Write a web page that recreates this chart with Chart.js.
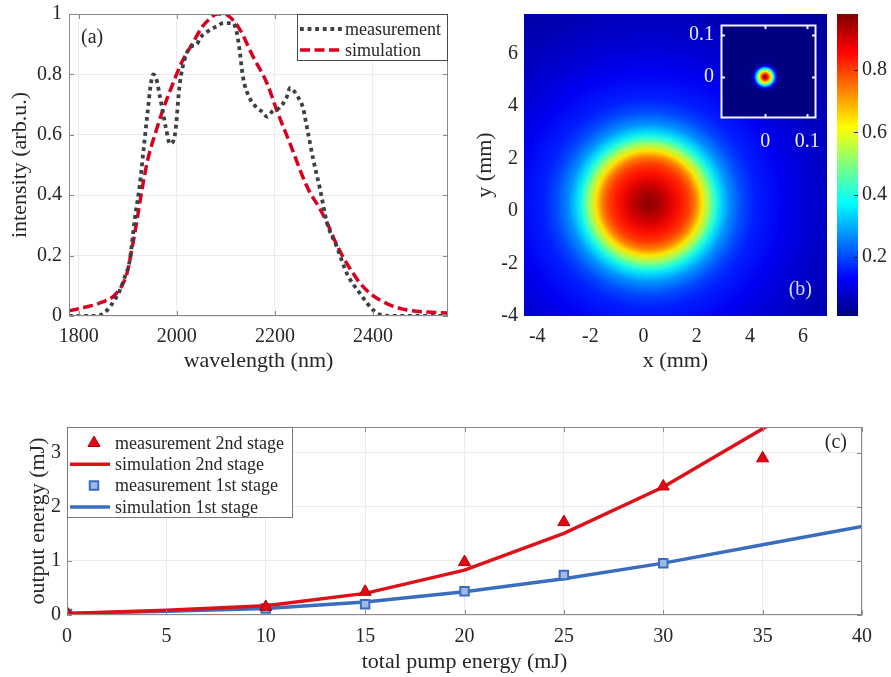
<!DOCTYPE html>
<html>
<head>
<meta charset="utf-8">
<script src="https://cdn.jsdelivr.net/npm/chart.js@4.4.0/dist/chart.umd.min.js"></script>
<style>
  body { margin: 0; background: #fff; }
  #page { position: relative; width: 891px; height: 677px; overflow: hidden; }
  canvas { position: absolute; }
  #spectrum { left: 0; top: 0; }
  #beam { left: 460px; top: 0; }
  #focus { left: 690px; top: 15px; }
  #energy { left: 0; top: 400px; }
</style>
</head>
<body>
<div id="page">
  <canvas id="spectrum" width="460" height="380"></canvas>
  <canvas id="beam" width="431" height="380"></canvas>
  <canvas id="focus" width="140" height="145"></canvas>
  <canvas id="energy" width="891" height="277"></canvas>
</div>
<script>
// (a) spectrum
const measWavelength = [1780, 1800, 1820, 1843, 1853, 1863, 1874, 1884, 1894, 1904, 1914, 1924, 1932, 1940, 1947, 1952, 1959, 1965, 1971, 1978, 1986, 1996, 2006, 2016, 2027, 2041, 2047, 2061, 2082, 2095, 2108, 2114, 2122, 2128, 2135, 2149, 2163, 2175, 2184, 2196, 2210, 2224, 2231, 2247, 2257, 2267, 2278, 2292, 2306, 2326, 2347, 2373, 2400, 2414, 2440, 2500, 2553];
const measIntensity = [0, 0, 0, 0.003, 0.012, 0.03, 0.055, 0.086, 0.13, 0.185, 0.32, 0.43, 0.55, 0.67, 0.77, 0.80, 0.78, 0.73, 0.68, 0.62, 0.57, 0.60, 0.77, 0.85, 0.89, 0.90, 0.92, 0.94, 0.96, 0.97, 0.97, 0.97, 0.94, 0.88, 0.79, 0.72, 0.69, 0.675, 0.66, 0.68, 0.69, 0.725, 0.755, 0.725, 0.69, 0.61, 0.52, 0.42, 0.31, 0.23, 0.14, 0.076, 0.02, 0.005, 0, 0, 0];
const simWavelength = [1780, 1808, 1843, 1877, 1898, 1908, 1918, 1929, 1941, 1959, 1971, 1992, 2010, 2031, 2053, 2068, 2082, 2095, 2108, 2128, 2155, 2184, 2204, 2231, 2257, 2271, 2290, 2306, 2322, 2339, 2356, 2373, 2394, 2414, 2440, 2469, 2510, 2553];
const simIntensity = [0.017, 0.027, 0.043, 0.076, 0.14, 0.22, 0.31, 0.42, 0.52, 0.62, 0.68, 0.77, 0.84, 0.90, 0.96, 0.985, 1.0, 1.0, 0.99, 0.95, 0.86, 0.77, 0.68, 0.57, 0.46, 0.41, 0.36, 0.31, 0.25, 0.195, 0.15, 0.11, 0.075, 0.053, 0.033, 0.02, 0.013, 0.01];
const wavelengthTicks = [1800, 2000, 2200, 2400];
const intensityTicks = [0, 0.2, 0.4, 0.6, 0.8, 1];

// (b) beam profile, radial levels (mm)
const beamCentreX = 0.2, beamCentreY = 0.3;
const beamRadius = [0, 0.4, 0.8, 1.2, 1.5, 1.75, 2.0, 2.25, 2.5, 2.75, 3.0, 3.5, 4.0, 5.0, 6.0, 7.5, 9.0];
const beamLevel = [0.97, 0.94, 0.89, 0.84, 0.80, 0.74, 0.64, 0.52, 0.41, 0.33, 0.27, 0.20, 0.16, 0.12, 0.09, 0.06, 0.04];
const focusRadius = [0, 0.004, 0.008, 0.011, 0.014, 0.017, 0.02, 0.023, 0.026, 0.03, 0.036];
const focusLevel = [0.97, 0.9, 0.8, 0.7, 0.62, 0.5, 0.38, 0.25, 0.13, 0.05, 0.01];
const beamTicks = [-4, -2, 0, 2, 4, 6];
const colourTicks = [0.2, 0.4, 0.6, 0.8];
const focusTicks = [0, 0.1];

// (c) output energy
const pumpMeas2 = [0, 10, 15, 20, 25, 30, 35];
const outMeas2 = [0.04, 0.15, 0.43, 0.98, 1.72, 2.38, 2.90];
const pumpSim2 = [0, 5, 10, 15, 20, 25, 30, 35.2];
const outSim2 = [0.03, 0.09, 0.17, 0.40, 0.83, 1.51, 2.37, 3.49];
const pumpMeas1 = [0, 10, 15, 20, 25, 30];
const outMeas1 = [0.02, 0.12, 0.20, 0.44, 0.74, 0.96];
const pumpSim1 = [0, 5, 10, 15, 20, 25, 30, 35, 40];
const outSim1 = [0.03, 0.07, 0.12, 0.24, 0.43, 0.67, 0.96, 1.30, 1.64];
const pumpTicks = [0, 5, 10, 15, 20, 25, 30, 35, 40];
const outTicks = [0, 1, 2, 3];

const serif = "'Liberation Serif', 'Times New Roman', serif";
const ink = '#262626';
Chart.defaults.font.family = serif;
Chart.defaults.color = ink;

const pts = (xs, ys) => xs.map((v, i) => ({ x: v, y: ys[i] }));
const fixTicks = values => scale => { scale.ticks = values.map(v => ({ value: v })); };
// fixed axis box size, and no extra label padding pushed into the layout
const fixSize = size => scale => {
    if (scale.isHorizontal()) scale.height = size; else scale.width = size;
    scale.paddingTop = scale.paddingBottom = scale.paddingLeft = scale.paddingRight = 0;
};

function jet(t) {
    const c = k => Math.round(255 * Math.min(1, Math.max(0, 1.5 - Math.abs(4 * t - k))));
    return `rgb(${c(3)},${c(2)},${c(1)})`;
}

function axis(ticks, min, max, size, pad, title, titlePad, extra) {
    return Object.assign({
        type: 'linear', min, max,
        afterBuildTicks: fixTicks(ticks),
        afterFit: fixSize(size),
        grid: { color: '#ebebeb', drawTicks: false },
        border: { display: false },
        ticks: { autoSkip: false, maxRotation: 0, padding: pad, font: { size: 20 }, callback: v => String(v) },
        title: { display: !!title, text: title, font: { size: 22, lineHeight: 1 }, padding: titlePad }
    }, extra || {});
}

// box round the plot with inward ticks on all four sides
const boxFrame = {
    id: 'boxFrame',
    afterDatasetsDraw(chart, args, o) {
        const { ctx, chartArea: a, scales: { x, y } } = chart;
        const len = o.tick;
        ctx.save();
        ctx.strokeStyle = o.color;
        ctx.lineWidth = o.width;
        ctx.setLineDash([]);
        ctx.strokeRect(a.left + 0.5, a.top + 0.5, a.width - 1, a.height - 1);
        ctx.beginPath();
        x.ticks.forEach(t => {
            const p = Math.round(x.getPixelForValue(t.value)) + 0.5;
            ctx.moveTo(p, a.bottom); ctx.lineTo(p, a.bottom - len);
            ctx.moveTo(p, a.top); ctx.lineTo(p, a.top + len);
        });
        y.ticks.forEach(t => {
            const p = Math.round(y.getPixelForValue(t.value)) + 0.5;
            ctx.moveTo(a.left, p); ctx.lineTo(a.left + len, p);
            ctx.moveTo(a.right, p); ctx.lineTo(a.right - len, p);
        });
        ctx.stroke();
        ctx.restore();
    }
};

const boxLegend = {
    id: 'boxLegend',
    afterDraw(chart, args, o) {
        const { ctx, chartArea: a } = chart;
        const left = o.right ? a.right - o.width : a.left;
        const top = a.top;
        ctx.save();
        ctx.fillStyle = '#fff';
        ctx.fillRect(left, top, o.width, o.height);
        ctx.strokeStyle = o.borderColor;
        ctx.lineWidth = 1;
        ctx.strokeRect(left + 0.5, top + 0.5, o.width - 1, o.height - 1);
        ctx.font = `${o.fontSize}px ${serif}`;
        ctx.textBaseline = 'middle';
        chart.data.datasets.forEach((ds, i) => {
            const y = top + o.firstRow + i * o.rowStep;
            if (ds.showLine === false) {
                ctx.fillStyle = ds.backgroundColor;
                ctx.strokeStyle = ds.borderColor;
                ctx.lineWidth = ds.borderWidth;
                Chart.helpers.drawPoint(ctx, { pointStyle: ds.pointStyle, radius: ds.pointRadius, rotation: 0, borderWidth: ds.borderWidth }, left + o.markX, y);
            } else {
                ctx.strokeStyle = ds.borderColor;
                ctx.lineWidth = ds.borderWidth;
                ctx.setLineDash(ds.borderDash || []);
                ctx.beginPath();
                ctx.moveTo(left + o.lineFrom, y);
                ctx.lineTo(left + o.lineTo, y);
                ctx.stroke();
                ctx.setLineDash([]);
            }
            ctx.fillStyle = ink;
            ctx.fillText(ds.label, left + o.textX, y + 1);
        });
        ctx.restore();
    }
};

const panelTag = {
    id: 'panelTag',
    afterDraw(chart, args, o) {
        const { ctx, chartArea: a } = chart;
        ctx.save();
        ctx.font = `20px ${serif}`;
        ctx.fillStyle = o.color;
        ctx.textBaseline = 'middle';
        ctx.textAlign = o.fromRight ? 'right' : 'left';
        const x = o.fromRight ? a.right - o.dx : a.left + o.dx;
        const y = o.fromBottom ? a.bottom - o.dy : a.top + o.dy;
        ctx.fillText(o.text, x, y);
        ctx.restore();
    }
};

// radial intensity map, placed through the chart's scales
function beamMap(id, cx, cy, radius, level, lo, hi) {
    return {
        id,
        beforeDatasetsDraw(chart) {
            const { ctx, chartArea: a, scales: { x, y } } = chart;
            const px = x.getPixelForValue(cx), py = y.getPixelForValue(cy);
            const kx = Math.abs(x.getPixelForValue(1) - x.getPixelForValue(0));
            const ky = Math.abs(y.getPixelForValue(1) - y.getPixelForValue(0));
            const rMax = radius[radius.length - 1] * kx;
            ctx.save();
            ctx.beginPath();
            ctx.rect(a.left, a.top, a.width, a.height);
            ctx.clip();
            ctx.translate(px, py);
            ctx.scale(1, ky / kx);
            const g = ctx.createRadialGradient(0, 0, 0, 0, 0, rMax);
            radius.forEach((r, i) => g.addColorStop(r * kx / rMax, jet((level[i] - lo) / (hi - lo))));
            ctx.fillStyle = g;
            ctx.fillRect(-3000, -3000, 6000, 6000);
            ctx.restore();
        }
    };
}

const colourBar = {
    id: 'colourBar',
    afterDraw(chart) {
        const { ctx } = chart;
        const s = chart.scales.cb;
        const left = s.left + 10, w = 21;
        const top = s.getPixelForValue(s.max), bottom = s.getPixelForValue(s.min);
        const g = ctx.createLinearGradient(0, bottom, 0, top);
        [0, 1 / 8, 3 / 8, 5 / 8, 7 / 8, 1].forEach(t => g.addColorStop(t, jet(t)));
        ctx.save();
        ctx.fillStyle = g;
        ctx.fillRect(left, top, w, bottom - top);
        ctx.strokeStyle = ink;
        ctx.lineWidth = 1;
        ctx.beginPath();
        s.ticks.forEach(t => {
            const p = Math.round(s.getPixelForValue(t.value)) + 0.5;
            ctx.moveTo(left + w, p); ctx.lineTo(left + w - 4, p);
        });
        ctx.stroke();
        ctx.restore();
    }
};

const noGrid = { display: false, drawTicks: false };

// (a)
new Chart(document.getElementById('spectrum'), {
    type: 'line',
    data: {
        datasets: [
            { label: 'measurement', data: pts(measWavelength, measIntensity), borderColor: '#3b4245', borderWidth: 3.8, borderDash: [3.8, 3.8], pointRadius: 0, cubicInterpolationMode: 'monotone' },
            { label: 'simulation', data: pts(simWavelength, simIntensity), borderColor: '#d9001f', borderWidth: 3.5, borderDash: [10, 4.5], pointRadius: 0, cubicInterpolationMode: 'monotone' }
        ]
    },
    options: {
        responsive: false, animation: false,
        layout: { padding: { top: 14, right: 12, left: 0, bottom: 0 } },
        plugins: {
            legend: { display: false }, tooltip: { enabled: false },
            boxFrame: { color: '#8a8a8a', width: 1, tick: 5 },
            boxLegend: { right: true, width: 151, height: 47, borderColor: '#4a4a4a', fontSize: 18, firstRow: 15, rowStep: 21, lineFrom: 3, lineTo: 46, textX: 48 },
            panelTag: { text: '(a)', color: ink, dx: 12, dy: 24 }
        },
        scales: {
            x: axis(wavelengthTicks, 1780, 2553, 64, 9, 'wavelength (nm)', { top: 0, bottom: 8 }),
            y: axis(intensityTicks, 0, 1, 69, 7, 'intensity (arb.u.)', { top: 9, bottom: 0 })
        }
    },
    plugins: [boxFrame, boxLegend, panelTag]
});

// (b)
const cbMin = 0.01, cbMax = 0.98;
new Chart(document.getElementById('beam'), {
    type: 'scatter',
    data: { datasets: [] },
    options: {
        responsive: false, animation: false,
        layout: { padding: { top: 14, right: 0, left: 0, bottom: 0 } },
        plugins: {
            legend: { display: false }, tooltip: { enabled: false },
            panelTag: { text: '(b)', color: '#dcdcdc', dx: 15, dy: 26, fromRight: true, fromBottom: true }
        },
        scales: {
            x: axis(beamTicks, -4.5, 6.9, 64, 9, 'x (mm)', { top: 0, bottom: 8 }, { grid: noGrid }),
            y: axis(beamTicks, -4, 7.5, 64, 6, 'y (mm)', { top: 14, bottom: 0 }, { grid: noGrid }),
            cb: axis(colourTicks, cbMin, cbMax, 64, 35, '', 0, { position: 'right', grid: noGrid })
        }
    },
    plugins: [beamMap('beamMap', beamCentreX, beamCentreY, beamRadius, beamLevel, cbMin, cbMax), colourBar, panelTag]
});

// (b) inset: focal spot
const insetTicks = pad => ({ autoSkip: false, maxRotation: 0, padding: pad, color: '#eeeeee', font: { size: 20 }, callback: v => String(v) });
new Chart(document.getElementById('focus'), {
    type: 'scatter',
    data: { datasets: [] },
    options: {
        responsive: false, animation: false,
        layout: { padding: { top: 10, right: 14, left: 0, bottom: 0 } },
        plugins: {
            legend: { display: false }, tooltip: { enabled: false },
            boxFrame: { color: '#f4f4f4', width: 2, tick: 4 }
        },
        scales: {
            x: axis(focusTicks, -0.105, 0.121, 42, 12, '', 0, { grid: noGrid, ticks: insetTicks(12) }),
            y: axis(focusTicks, -0.098, 0.124, 31, 7, '', 0, { grid: noGrid, ticks: insetTicks(7) })
        }
    },
    plugins: [beamMap('focusMap', 0, 0, focusRadius, focusLevel, cbMin, cbMax), boxFrame]
});

// (c)
new Chart(document.getElementById('energy'), {
    type: 'line',
    data: {
        datasets: [
            { label: 'measurement 2nd stage', data: pts(pumpMeas2, outMeas2), showLine: false, pointStyle: 'triangle', pointRadius: 7, backgroundColor: '#e30613', borderColor: '#b3000c', borderWidth: 1 },
            { label: 'simulation 2nd stage', data: pts(pumpSim2, outSim2), borderColor: '#dd1118', borderWidth: 3.5, pointRadius: 0 },
            { label: 'measurement 1st stage', data: pts(pumpMeas1, outMeas1), showLine: false, pointStyle: 'rect', pointRadius: 6, backgroundColor: '#9fb9e3', borderColor: '#3a6cc0', borderWidth: 2 },
            { label: 'simulation 1st stage', data: pts(pumpSim1, outSim1), borderColor: '#3b6dbf', borderWidth: 3.5, pointRadius: 0 }
        ]
    },
    options: {
        responsive: false, animation: false,
        layout: { padding: { top: 27, right: 29, left: 0, bottom: 0 } },
        plugins: {
            legend: { display: false }, tooltip: { enabled: false },
            boxFrame: { color: '#8a8a8a', width: 1, tick: 5 },
            boxLegend: { right: false, width: 226, height: 91, borderColor: '#7a7a7a', fontSize: 18, firstRow: 16, rowStep: 21.3, lineFrom: 3, lineTo: 43, markX: 27, textX: 48 },
            panelTag: { text: '(c)', color: ink, dx: 15, dy: 16, fromRight: true }
        },
        scales: {
            x: axis(pumpTicks, 0, 40, 62, 10, 'total pump energy (mJ)', { top: 0, bottom: 4 }),
            y: axis(outTicks, 0, 3.48, 67, 6, 'output energy (mJ)', { top: 27, bottom: 0 })
        }
    },
    plugins: [boxFrame, boxLegend, panelTag]
});
</script>
</body>
</html>
